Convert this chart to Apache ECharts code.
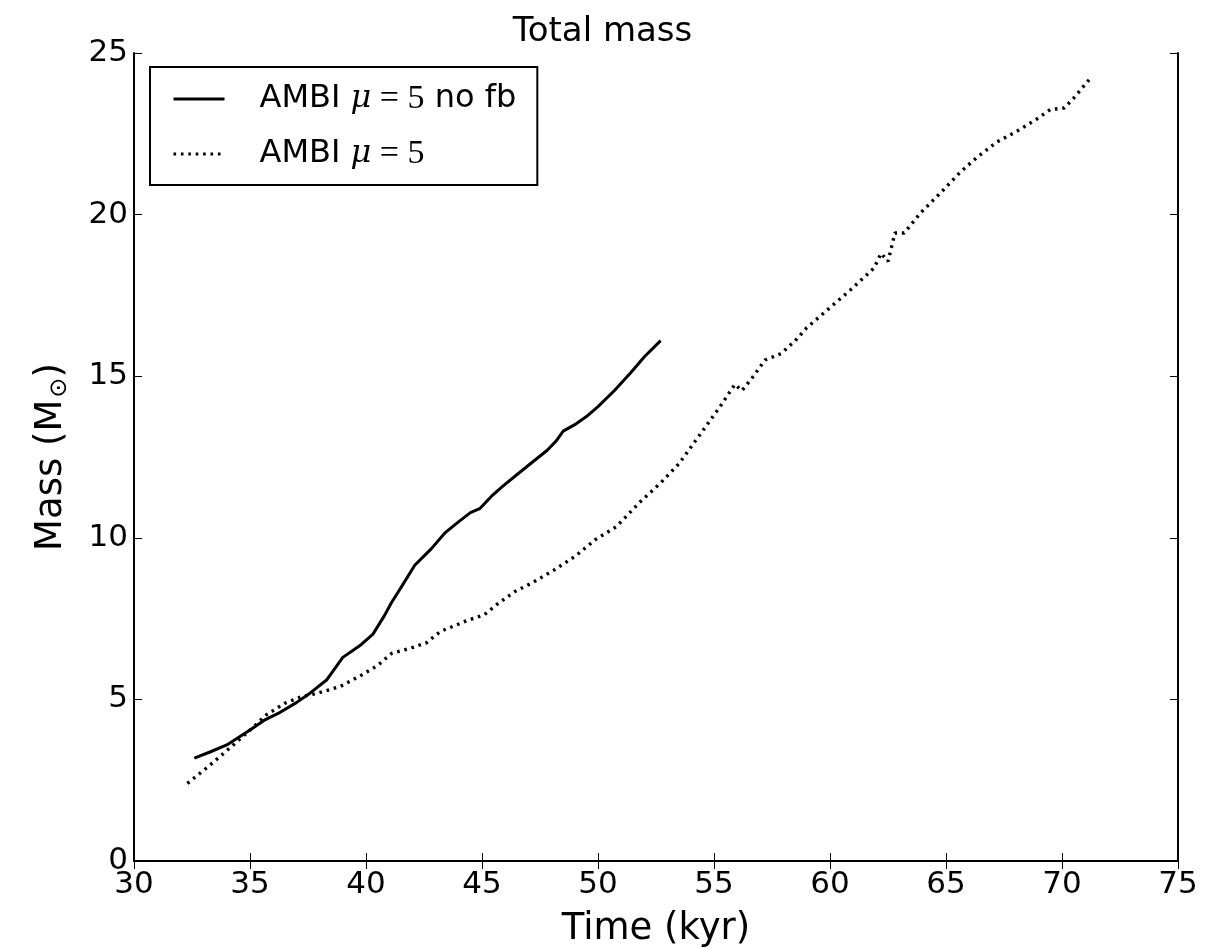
<!DOCTYPE html>
<html>
<head>
<meta charset="utf-8">
<script src="https://cdn.jsdelivr.net/npm/echarts@6/dist/echarts.min.js"></script>
<style>
html,body{margin:0;padding:0;background:#fff;}
#chart{width:1205px;height:948px;}
</style>
</head>
<body>
<div id="chart"></div>
<script>
// Data
const timeNoFb = [32.6, 33.3, 34.0, 35.0, 35.6, 36.3, 37.0, 37.6, 38.3, 39.0, 39.4, 39.8, 40.3, 40.8, 41.1, 41.5, 42.1, 42.8, 43.4, 44.0, 44.5, 44.9, 45.4, 45.9, 46.5, 47.1, 47.8, 48.2, 48.5, 49.0, 49.5, 50.0, 50.7, 51.4, 52.0, 52.7];
const massNoFb = [3.18, 3.38, 3.59, 4.05, 4.35, 4.6, 4.9, 5.2, 5.6, 6.3, 6.5, 6.7, 7.02, 7.6, 8.0, 8.45, 9.15, 9.65, 10.15, 10.5, 10.78, 10.9, 11.28, 11.6, 11.95, 12.3, 12.7, 13.0, 13.3, 13.5, 13.75, 14.06, 14.55, 15.1, 15.6, 16.1];
const timeFb = [32.3, 33.2, 34.2, 35.0, 35.7, 36.5, 37.2, 37.9, 38.9, 39.8, 40.5, 41.1, 41.9, 42.6, 43.2, 44.4, 45.1, 45.7, 46.4, 47.2, 48.1, 49.0, 49.9, 50.8, 51.8, 52.7, 53.5, 54.1, 54.7, 55.3, 55.9, 56.2, 56.7, 57.2, 57.9, 58.5, 59.0, 59.9, 60.9, 61.9, 62.2, 62.5, 62.8, 63.2, 63.9, 64.8, 65.6, 66.3, 67.2, 68.1, 68.9, 69.5, 70.1, 70.5, 71.2];
const massFb = [2.4, 2.92, 3.54, 4.05, 4.52, 4.88, 5.08, 5.19, 5.4, 5.75, 6.05, 6.42, 6.58, 6.75, 7.1, 7.45, 7.62, 7.97, 8.33, 8.62, 9.0, 9.42, 9.95, 10.35, 11.1, 11.7, 12.3, 12.9, 13.5, 14.1, 14.75, 14.55, 15.0, 15.5, 15.7, 16.1, 16.5, 17.06, 17.68, 18.35, 18.8, 18.55, 19.43, 19.43, 20.05, 20.7, 21.3, 21.75, 22.25, 22.6, 22.95, 23.25, 23.3, 23.6, 24.2];
const xTicks = {min: 30, max: 75, interval: 5};
const yTicks = {min: 0, max: 25, interval: 5};
const seriesNames = ['AMBI μ=5 no fb', 'AMBI μ=5'];
const titleText = 'Total mass';
const xName = 'Time (kyr)';

const pairs = (xs, ys) => xs.map((x, i) => [x, ys[i]]);
const FONT = 'DejaVu Sans';
const chart = echarts.init(document.getElementById('chart'), null, {renderer: 'canvas'});

const tickStyle = {show: true, inside: true, length: 8, lineStyle: {color: '#000', width: 1}};
const lineStyleAxis = {show: true, lineStyle: {color: '#000', width: 2}};

chart.setOption({
  animation: false,
  backgroundColor: '#fff',
  title: {
    text: titleText, left: 'center', top: 10,
    textStyle: {fontFamily: FONT, fontSize: 34, fontWeight: 'normal', color: '#000'}
  },
  grid: {left: 134, right: 27, top: 53, bottom: 87, containLabel: false, outerBoundsMode: 'none'},
  legend: {
    orient: 'vertical', left: 150, top: 67,
    backgroundColor: '#fff', borderColor: '#000', borderWidth: 2, borderRadius: 0,
    padding: [15, 21, 14, 22],
    itemWidth: 51, itemHeight: 26, itemGap: 21,
    itemStyle: {opacity: 0, color: 'transparent', borderWidth: 0},
    lineStyle: {width: 3},
    data: seriesNames,
    formatter: function (name) {
      return name === seriesNames[0]
        ? '{a|AMBI }{m|μ}{e| = 5}{a| no fb}'
        : '{a|AMBI }{m|μ}{e| = 5}';
    },
    textStyle: {
      fontFamily: FONT, fontSize: 32, color: '#000', padding: [0, 0, 0, 30],
      rich: {
        a: {fontFamily: FONT, fontSize: 32, color: '#000'},
        m: {fontFamily: 'DejaVu Serif', fontStyle: 'italic', fontSize: 32, color: '#000'},
        e: {fontFamily: 'Liberation Serif', fontSize: 34, color: '#000'}
      }
    }
  },
  xAxis: [{
    type: 'value', min: xTicks.min, max: xTicks.max, interval: xTicks.interval,
    position: 'bottom',
    name: xName, nameLocation: 'middle', nameGap: 50,
    nameTextStyle: {fontFamily: FONT, fontSize: 37, color: '#000'},
    axisLine: lineStyleAxis, axisTick: tickStyle,
    axisLabel: {fontFamily: FONT, fontSize: 31, color: '#000', margin: 8},
    splitLine: {show: false}
  }, {
    type: 'value', min: xTicks.min, max: xTicks.max, interval: xTicks.interval,
    position: 'top',
    axisLine: lineStyleAxis, axisTick: tickStyle,
    axisLabel: {show: false}, splitLine: {show: false}
  }],
  yAxis: [{
    type: 'value', min: yTicks.min, max: yTicks.max, interval: yTicks.interval,
    position: 'left',
    name: '{n|Mass (M}{s|⊙}{n|)}', nameLocation: 'middle', nameGap: 61, nameRotate: 90,
    nameTextStyle: {
      fontFamily: FONT, fontSize: 37, color: '#000',
      rich: {
        n: {fontFamily: FONT, fontSize: 37, color: '#000', lineHeight: 44},
        s: {fontFamily: 'DejaVu Sans', fontSize: 24, color: '#000', padding: [18, 0, 0, 2], lineHeight: 44}
      }
    },
    axisLine: lineStyleAxis, axisTick: tickStyle,
    axisLabel: {fontFamily: FONT, fontSize: 31, color: '#000', margin: 6},
    splitLine: {show: false}
  }, {
    type: 'value', min: yTicks.min, max: yTicks.max, interval: yTicks.interval,
    position: 'right',
    axisLine: lineStyleAxis, axisTick: tickStyle,
    axisLabel: {show: false}, splitLine: {show: false}
  }],
  series: [{
    name: seriesNames[0], type: 'line', xAxisIndex: 0, yAxisIndex: 0,
    data: pairs(timeNoFb, massNoFb), showSymbol: false, symbol: 'none',
    lineStyle: {color: '#000', width: 3, type: 'solid'},
    itemStyle: {color: '#000'}
  }, {
    name: seriesNames[1], type: 'line', xAxisIndex: 0, yAxisIndex: 0,
    data: pairs(timeFb, massFb), showSymbol: false, symbol: 'none',
    lineStyle: {color: '#000', width: 3.4, type: [2.6, 4.8], cap: 'butt'},
    itemStyle: {color: '#000'}
  }]
});
</script>
</body>
</html>
